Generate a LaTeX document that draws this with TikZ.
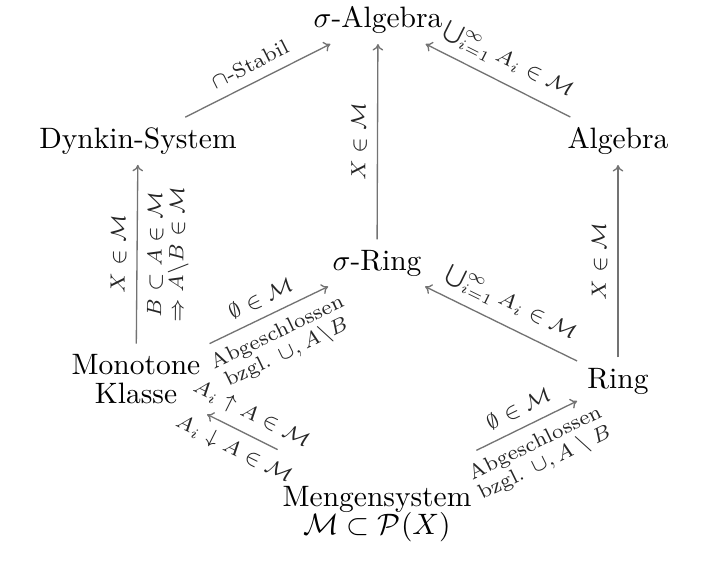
\documentclass[tikz,border=0pt]{standalone}
\usepackage{amsmath}
\usetikzlibrary{arrows.meta}
\tikzset{
  obj/.style={font=\fontsize{10}{10}\selectfont, align=center, text=black},
  conn/.style={draw=black!55, line width=0.45pt, -{To[length=2.2pt,width=3.6pt]}},
  lab/.style={font=\fontsize{7}{7.4}\selectfont, align=center, sloped, text=black!85},
}
\begin{document}
\begin{tikzpicture}[x=0.339pt, y=-0.339pt]
\useasboundingbox (0,0) rectangle (720,571);
% objects
\node[obj] (salg) at (378,20) {$\sigma$-Algebra};
\node[obj] (dynkin) at (138,141) {Dynkin-System};
\node[obj] (alg) at (618,141) {Algebra};
\node[obj] (sring) at (377,263) {$\sigma$-Ring};
\node[obj] (mono) at (136,379) {Monotone\\Klasse};
\node[obj] (ring) at (618,381) {Ring};
\node[obj, minimum height=34pt, inner xsep=1.5pt] (mengen) at (377,499) {Mengensystem};
\node[obj] (mengenM) at (377,527) {$\mathcal{M}\subset\mathcal{P}(X)$};
% connectors
\draw[conn] (dynkin) -- node[lab, above] {$\cap$-Stabil} (salg);
\draw[conn] (alg) -- node[lab, above] {$\bigcup_{i=1}^\infty A_i\in\mathcal{M}$} (salg);
\draw[conn] (sring) -- node[lab, above] {$X\in\mathcal{M}$} (salg);
\draw[conn] (mono) -- node[lab, above] {$X\in\mathcal{M}$}
                      node[lab, below] {$B\subset A\in\mathcal{M}$\\$\Rightarrow A\backslash B\in\mathcal{M}$} (dynkin);
\draw[conn] (ring) -- node[lab, above] {$X\in\mathcal{M}$} (alg);
\draw[conn] (ring) -- node[lab, above] {$\bigcup_{i=1}^\infty A_i\in\mathcal{M}$} (sring);
\draw[conn] (mono) -- node[lab, above] {$\emptyset\in\mathcal{M}$}
                      node[lab, below] {Abgeschlossen\\bzgl. $\cup, A\backslash B$} (sring);
\draw[conn] (mengen) -- node[lab, above] {$\emptyset\in\mathcal{M}$}
                        node[lab, below] {Abgeschlossen\\bzgl. $\cup, A\setminus B$} (ring);
\draw[conn] (mengen) -- node[lab, above] {$A_i\uparrow A\in\mathcal{M}$}
                        node[lab, below] {$A_i\downarrow A\in\mathcal{M}$} (mono);
\end{tikzpicture}
\end{document}
